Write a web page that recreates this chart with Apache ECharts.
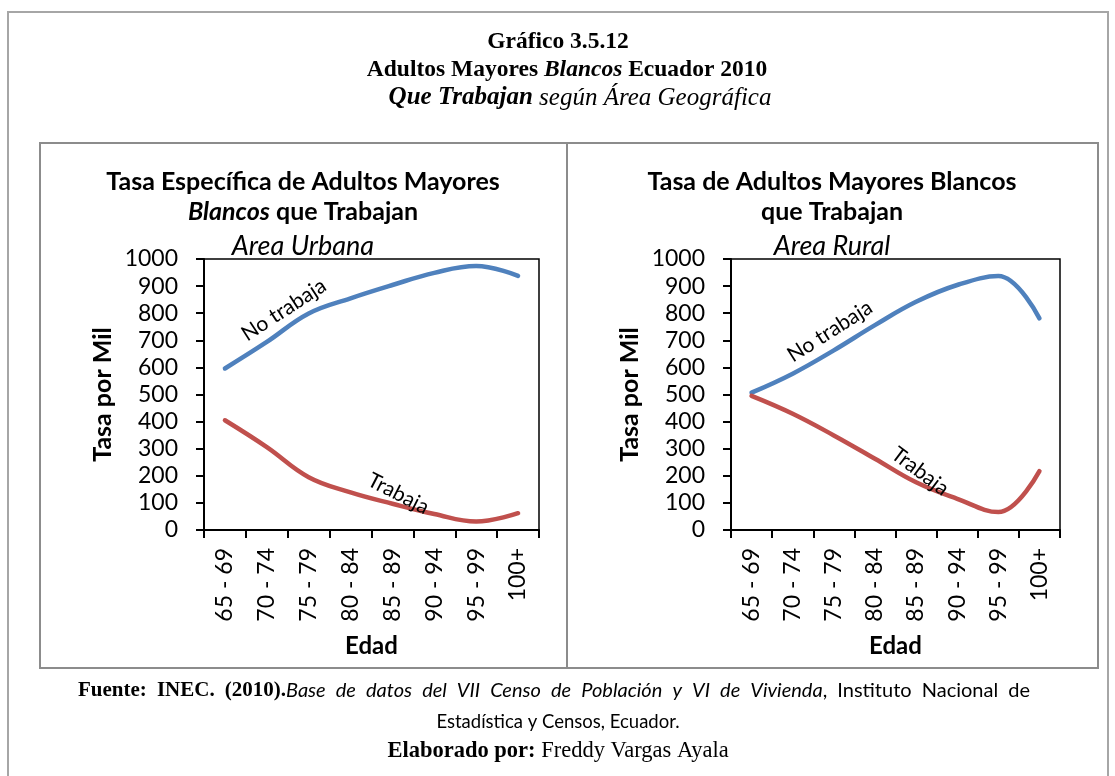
<!DOCTYPE html>
<html>
<head>
<meta charset="utf-8">
<script src="https://cdn.jsdelivr.net/npm/echarts@6/dist/echarts.min.js"></script>
<style>
  html, body { margin: 0; padding: 0; background: #fff; }
  #chart { width: 1115px; height: 776px; }
</style>
</head>
<body>
<div id="chart"></div>
<script>
// Age groups (x axis categories)
const ageGroups = ['65 - 69', '70 - 74', '75 - 79', '80 - 84', '85 - 89', '90 - 94', '95 - 99', '100+'];

// Rates per thousand, urban area
const urbanNoTrabaja = [596, 694, 799, 855, 904, 949, 974, 938];
const urbanTrabaja   = [405, 306, 195, 139, 97, 59, 31, 62];

// Rates per thousand, rural area
const ruralNoTrabaja = [507, 577, 663, 756, 842, 904, 937, 781];
const ruralTrabaja   = [495, 429, 349, 263, 176, 115, 66, 217];

// Y axis range
const yMin = 0, yMax = 1000, yStep = 100;

const BLUE = '#4F81BD';
const RED = '#C0504D';
const SANS = 'Lato';
const SERIF = 'Liberation Serif';

const chart = echarts.init(document.getElementById('chart'), null, { renderer: 'canvas' });

function xAxisFor(gridIndex) {
  return {
    type: 'category', gridIndex, data: ageGroups, boundaryGap: true,
    axisLine: { show: true, lineStyle: { color: '#000', width: 2 } },
    axisTick: { show: true, interval: 0, length: 8, lineStyle: { color: '#000', width: 2 } },
    axisLabel: { interval: 0, rotate: 90, margin: 18, fontFamily: SANS, fontSize: 23, color: '#000' },
    name: 'Edad', nameLocation: 'middle', nameGap: 104,
    nameTextStyle: { fontFamily: SANS, fontWeight: 'bold', fontSize: 24, color: '#000' }
  };
}
function yAxisFor(gridIndex) {
  return {
    type: 'value', gridIndex, min: yMin, max: yMax, interval: yStep,
    axisLine: { show: true, lineStyle: { color: '#000', width: 2 } },
    axisTick: { show: true, length: 8, lineStyle: { color: '#000', width: 2 } },
    splitLine: { show: false },
    axisLabel: { margin: 26, fontFamily: SANS, fontSize: 23, color: '#000', formatter: v => String(v) },
    name: 'Tasa por Mil', nameLocation: 'middle', nameGap: 89, nameRotate: 90,
    nameTextStyle: { fontFamily: SANS, fontWeight: 'bold', fontSize: 25, color: '#000' }
  };
}
function lineSeries(name, data, color, idx) {
  return {
    name, type: 'line', xAxisIndex: idx, yAxisIndex: idx, data,
    smooth: 0.4, symbol: 'none', silent: true,
    lineStyle: { color, width: 4.5, cap: 'round' }
  };
}

chart.setOption({
  backgroundColor: '#fff',
  animation: false,
  grid: [
    { left: 204, top: 259, width: 335, height: 271, show: true, borderColor: '#000', borderWidth: 1.5, backgroundColor: 'transparent' },
    { left: 731, top: 259, width: 329, height: 271, show: true, borderColor: '#000', borderWidth: 1.5, backgroundColor: 'transparent' }
  ],
  xAxis: [xAxisFor(0), xAxisFor(1)],
  yAxis: [yAxisFor(0), yAxisFor(1)],
  series: [
    lineSeries('No trabaja', urbanNoTrabaja, BLUE, 0),
    lineSeries('Trabaja', urbanTrabaja, RED, 0),
    lineSeries('No trabaja', ruralNoTrabaja, BLUE, 1),
    lineSeries('Trabaja', ruralTrabaja, RED, 1)
  ]
});

// Text helpers
function txt(x, y, text, font, extra) {
  return Object.assign({
    type: 'text', x, y, silent: true,
    style: { text, font, fill: '#000', align: 'center', verticalAlign: 'middle' }
  }, extra || {});
}
function richTxt(x, y, text, rich, align) {
  return {
    type: 'text', x, y, silent: true,
    style: { text, rich, fill: '#000', align: align || 'center', verticalAlign: 'middle' }
  };
}

// Curve labels anchored to a data point of a series
function curveLabel(gridIdx, values, i, dx, dy, deg, text) {
  const p = chart.convertToPixel({ xAxisIndex: gridIdx, yAxisIndex: gridIdx }, [i, values[i]]);
  return {
    type: 'text', x: p[0] + dx, y: p[1] + dy, rotation: deg * Math.PI / 180, silent: true, z: 10,
    style: { text, font: '21px ' + SANS, fill: '#000', align: 'center', verticalAlign: 'middle' }
  };
}

// Justified source line: words spread between two x positions
const footFonts = {
  b: 'bold 21px "Liberation Serif"',
  i: 'italic 20px Lato',
  r: '20px Lato'
};
const footWords = [
  ['b', 'Fuente:'], ['b', 'INEC.'], ['b', '(2010).', true],
  ['i', 'Base'], ['i', 'de'], ['i', 'datos'], ['i', 'del'], ['i', 'VII'], ['i', 'Censo'], ['i', 'de'],
  ['i', 'Población'], ['i', 'y'], ['i', 'VI'], ['i', 'de'], ['i', 'Vivienda', true],
  ['r', ','], ['r', 'Instituto'], ['r', 'Nacional'], ['r', 'de']
];
function justifiedLine(x0, x1, y) {
  const ctx = document.createElement('canvas').getContext('2d');
  let total = 0, gaps = 0;
  footWords.forEach((w, k) => {
    ctx.font = footFonts[w[0]];
    total += ctx.measureText(w[1]).width;
    if (k < footWords.length - 1 && !w[2]) gaps++;
  });
  const gap = Math.max(4, (x1 - x0 - total) / gaps);
  let str = '';
  footWords.forEach((w, k) => {
    str += '{' + w[0] + '|' + w[1] + '}';
    if (k < footWords.length - 1 && !w[2]) str += '{sp| }';
  });
  const rich = {
    b: { font: footFonts.b, fill: '#000' },
    i: { font: footFonts.i, fill: '#000' },
    r: { font: footFonts.r, fill: '#000' },
    sp: { font: footFonts.r, width: gap }
  };
  return richTxt(x0, y, str, rich, 'left');
}

const graphics = [
  // outer frame
  { type: 'rect', shape: { x: 8, y: 12, width: 1100, height: 800 }, style: { fill: 'none', stroke: '#a6a6a6', lineWidth: 2 }, silent: true, z: -10 },
  // chart panels
  { type: 'rect', shape: { x: 40, y: 143, width: 1058, height: 525 }, style: { fill: 'none', stroke: '#8c8c8c', lineWidth: 2 }, silent: true, z: -10 },
  { type: 'line', shape: { x1: 567, y1: 143, x2: 567, y2: 668 }, style: { stroke: '#8c8c8c', lineWidth: 2 }, silent: true, z: -10 },

  // header
  txt(558, 42, 'Gráfico 3.5.12', 'bold 23.5px ' + SERIF),
  richTxt(567, 70, '{b|Adultos Mayores }{bi|Blancos}{b| Ecuador 2010}', {
    b: { font: 'bold 23.5px ' + SERIF, fill: '#000' },
    bi: { font: 'italic bold 23.5px ' + SERIF, fill: '#000' }
  }),
  richTxt(580, 98, '{bi|Que Trabajan}{i| según Área Geográfica}', {
    bi: { font: 'italic bold 25px ' + SERIF, fill: '#000' },
    i: { font: 'italic 25px ' + SERIF, fill: '#000' }
  }),

  // left chart titles
  txt(303, 182, 'Tasa Específica de Adultos Mayores', 'bold 25px ' + SANS),
  richTxt(303, 212, '{bi|Blancos}{b| que Trabajan}', {
    b: { font: 'bold 25px ' + SANS, fill: '#000' },
    bi: { font: 'italic bold 25px ' + SANS, fill: '#000' }
  }),
  txt(303, 246, 'Area Urbana', 'italic 27px ' + SANS),

  // right chart titles
  txt(832, 182, 'Tasa de Adultos Mayores Blancos', 'bold 25px ' + SANS),
  txt(832, 212, 'que Trabajan', 'bold 25px ' + SANS),
  txt(832, 246, 'Area Rural', 'italic 27px ' + SANS),

  // footer
  justifiedLine(78, 1030, 691),
  txt(558, 722, 'Estadística y Censos, Ecuador.', '18.5px ' + SANS),
  richTxt(558, 751, '{b|Elaborado por:}{r| Freddy Vargas Ayala}', {
    b: { font: 'bold 22.5px ' + SERIF, fill: '#000' },
    r: { font: '22.5px ' + SERIF, fill: '#000' }
  }),

  // curve labels
  curveLabel(0, urbanNoTrabaja, 1, 17, -32, 33, 'No trabaja'),
  curveLabel(0, urbanTrabaja, 4, 6, -10, -27, 'Trabaja'),
  curveLabel(1, ruralNoTrabaja, 2, -4, -19, 32.5, 'No trabaja'),
  curveLabel(1, ruralTrabaja, 4, 4, -11, -37, 'Trabaja')
];

chart.setOption({ graphic: graphics });
</script>
</body>
</html>
